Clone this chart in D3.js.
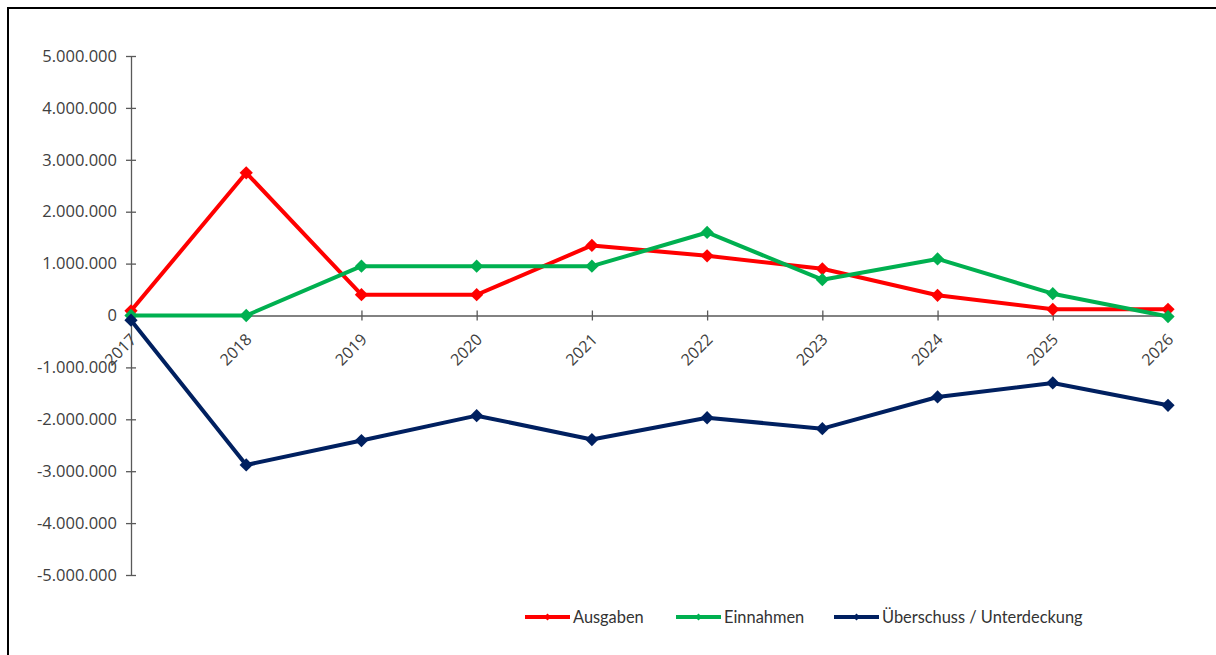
<!DOCTYPE html>
<html>
<head>
<meta charset="utf-8">
<script src="https://cdn.jsdelivr.net/npm/d3@7"></script>
<style>
  html, body { margin: 0; padding: 0; background: #fff; }
  svg { display: block; }
</style>
</head>
<body>
<svg id="chart" width="1216" height="655"></svg>
<script>
// Jahre der Finanzplanung
const years = ["2017", "2018", "2019", "2020", "2021", "2022", "2023", "2024", "2025", "2026"];

// Werte in Euro
const ausgaben = [90000, 2750000, 400000, 400000, 1350000, 1150000, 900000, 390000, 120000, 120000];
const einnahmen = [0, 0, 950000, 950000, 950000, 1600000, 690000, 1090000, 420000, -20000];
const ueberschuss = [-90000, -2880000, -2410000, -1930000, -2390000, -1970000, -2180000, -1570000, -1300000, -1730000];

const yTicks = [5000000, 4000000, 3000000, 2000000, 1000000, 0, -1000000, -2000000, -3000000, -4000000, -5000000];

const seriesNames = ["Ausgaben", "Einnahmen", "Überschuss / Unterdeckung"];
const seriesColors = ["#ff0000", "#00b050", "#002060"];
const seriesValues = [ausgaben, einnahmen, ueberschuss];

const svg = d3.select("#chart");

// Rahmen (oben und links)
svg.append("line").attr("x1", 7).attr("x2", 1216).attr("y1", 8).attr("y2", 8)
  .attr("stroke", "#000").attr("stroke-width", 2);
svg.append("line").attr("x1", 8).attr("x2", 8).attr("y1", 7).attr("y2", 655)
  .attr("stroke", "#000").attr("stroke-width", 2);

const x = d3.scalePoint().domain(years).range([131, 1168]);
const y = d3.scaleLinear().domain([-5000000, 5000000]).range([575, 56]);

const fmt = v => d3.format(",")(v).replace(/,/g, ".").replace("−", "-");

// y-Achse
const yAxis = svg.append("g").attr("transform", `translate(${x(years[0])},0)`)
  .call(d3.axisLeft(y).tickValues(yTicks).tickFormat(fmt).tickSize(0).tickPadding(14));
yAxis.select(".domain").attr("stroke", "#595959").attr("stroke-width", 1.3);
yAxis.selectAll(".tick line").attr("x1", -5).attr("x2", 5)
  .attr("stroke", "#595959").attr("stroke-width", 1.3);
yAxis.selectAll("text").attr("fill", "#404040")
  .style("font-family", "'Open Sans', sans-serif").style("font-size", "16.5px");

// x-Achse auf der Nulllinie
const xAxis = svg.append("g").attr("transform", `translate(0,${y(0)})`)
  .call(d3.axisBottom(x).tickSize(0).tickPadding(0));
xAxis.select(".domain").attr("stroke", "#595959").attr("stroke-width", 1.3);
xAxis.selectAll(".tick line").attr("y1", -5).attr("y2", 5)
  .attr("stroke", "#595959").attr("stroke-width", 1.3);
xAxis.selectAll("text")
  .attr("fill", "#404040")
  .style("font-family", "'Open Sans', sans-serif").style("font-size", "16px")
  .attr("text-anchor", "end")
  .attr("y", 0)
  .attr("dy", "0")
  .attr("transform", "translate(6,25) rotate(-45)");

// Linien mit Rautenmarkern
const line = d3.line().x((d, i) => x(years[i])).y(d => y(d));
const marker = d3.symbol().type(d3.symbolSquare).size(88);

seriesValues.forEach((vals, k) => {
  const g = svg.append("g");
  g.append("path").datum(vals).attr("d", line)
    .attr("fill", "none").attr("stroke", seriesColors[k])
    .attr("stroke-width", 4).attr("stroke-linejoin", "round");
  g.selectAll("path.m").data(vals).join("path").attr("class", "m")
    .attr("d", marker)
    .attr("transform", (d, i) => `translate(${x(years[i])},${y(d)}) rotate(45)`)
    .attr("fill", seriesColors[k]);
});

// Legende
const legendX = [525, 676, 834];
const legend = svg.append("g").attr("transform", "translate(0,617)");
seriesNames.forEach((name, k) => {
  const g = legend.append("g").attr("transform", `translate(${legendX[k]},0)`);
  g.append("line").attr("x1", 0).attr("x2", 45).attr("y1", 0).attr("y2", 0)
    .attr("stroke", seriesColors[k]).attr("stroke-width", 4);
  g.append("path").attr("d", d3.symbol().type(d3.symbolSquare).size(26))
    .attr("transform", "translate(22.5,0) rotate(45)").attr("fill", seriesColors[k]);
  g.append("text").attr("x", 48).attr("y", 6).text(name)
    .attr("fill", "#333")
    .style("font-family", "Lato, sans-serif").style("font-size", "16.4px");
});
</script>
</body>
</html>
